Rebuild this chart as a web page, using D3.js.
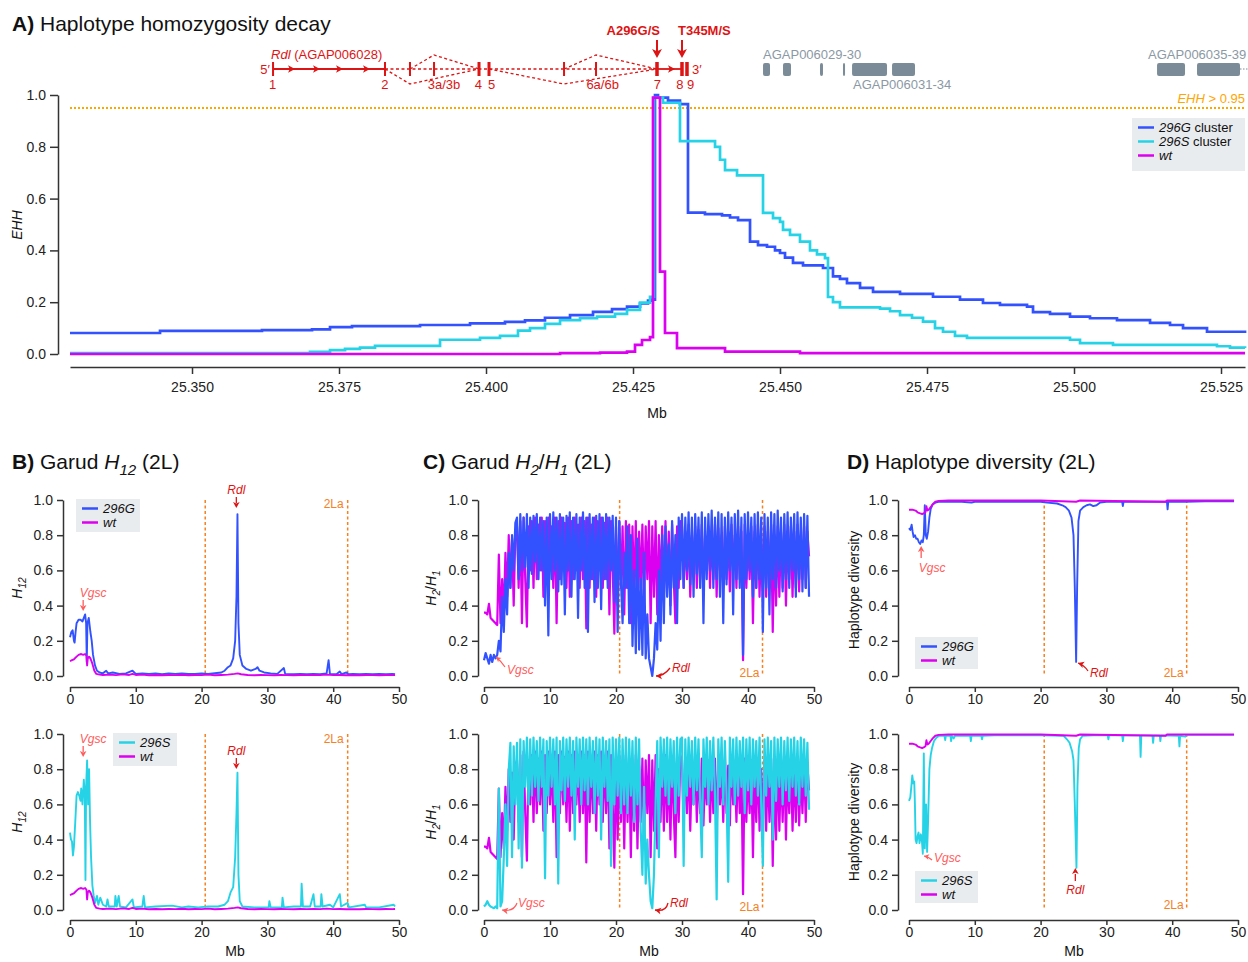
<!DOCTYPE html>
<meta charset="utf-8">
<script src="https://d3js.org/d3.v7.min.js"></script>
<style>
  body { margin: 0; background: #fff; }
</style>
<div id="chart"></div>
<script>

// ---------- colours ----------
var cBlue = "#3352ff", cCyan = "#26d3e6", cMag = "#dc00f0";
var cRed = "#dd1414", cVgsc = "#ff5c5c", cOrange = "#f7801f", cEhh = "#ffa500";
var cGray = "#7b8c98", cAxis = "#333", cLegend = "#e9ecef";
var FONT = '"Liberation Sans", Arial, Helvetica, sans-serif';

// ---------- data: panel A (EHH, position in Mb) ----------
var ehhTicks = [25.350, 25.375, 25.400, 25.425, 25.450, 25.475, 25.500, 25.525];
var ehhThreshold = 0.95;
var ehh296G = [[25.32925,.081],[25.34456,.089],[25.3619,.092],[25.37041,.095],[25.37347,.104],[25.37721,.108],[25.38878,.112],[25.39728,.118],[25.40323,.124],[25.40663,.13],[25.41003,.14],[25.41429,.15],[25.4182,.163],[25.42143,.173],[25.42398,.183],[25.42619,.195],[25.42755,.206],[25.42823,.21],[25.42874,1.0],[25.42925,.99],[25.43095,.978],[25.43299,.965],[25.43435,.546],[25.43724,.54],[25.44014,.535],[25.4415,.527],[25.44286,.517],[25.4449,.434],[25.44626,.42],[25.44779,.414],[25.44915,.4],[25.45,.39],[25.45085,.372],[25.45221,.352],[25.45391,.342],[25.45731,.332],[25.45901,.3],[25.4602,.29],[25.46139,.274],[25.46361,.255],[25.46582,.24],[25.47041,.232],[25.47602,.221],[25.48061,.21],[25.48452,.197],[25.48741,.19],[25.49201,.183],[25.49303,.162],[25.49592,.155],[25.49932,.144],[25.50272,.138],[25.50731,.131],[25.51293,.12],[25.51633,.112],[25.51854,.1],[25.52262,.086],[25.52908,.081]];
var ehh296S = [[25.32925,.003],[25.37007,.008],[25.37347,.015],[25.37602,.02],[25.37857,.025],[25.38112,.031],[25.39218,.055],[25.39898,.062],[25.40238,.07],[25.40544,.09],[25.40748,.1],[25.41003,.116],[25.41259,.131],[25.41599,.138],[25.41888,.144],[25.42194,.155],[25.42398,.17],[25.42619,.198],[25.42789,.221],[25.42857,.99],[25.4301,.97],[25.43299,.822],[25.43895,.8],[25.4398,.75],[25.44065,.71],[25.44269,.69],[25.44711,.545],[25.44881,.525],[25.45,.51],[25.45051,.479],[25.4517,.46],[25.4534,.434],[25.4551,.4],[25.45629,.385],[25.45765,.37],[25.45816,.22],[25.45901,.2],[25.4602,.18],[25.46701,.175],[25.46871,.165],[25.47041,.15],[25.47245,.14],[25.47432,.125],[25.47636,.1],[25.47772,.086],[25.47976,.07],[25.4818,.062],[25.49932,.055],[25.50102,.042],[25.50663,.035],[25.52432,.03],[25.52653,.025],[25.52908,.023]];
var ehhWt = [[25.32925,0],[25.41259,.003],[25.41939,.005],[25.42398,.009],[25.42534,.035],[25.42653,.054],[25.42789,.065],[25.4284,.99],[25.42959,.318],[25.43044,.081],[25.43248,.023],[25.44065,.009],[25.4534,.003],[25.52908,.003]];

// gene model (Mb)
var rdlExons = [25.36378, 25.38282, 25.38707, 25.39116, 25.39881, 25.40051, 25.41327, 25.41871, 25.42908, 25.43333, 25.43418];
var rdlExonLabels = [["1",25.36372],["2",25.38282],["3a/3b",25.39286],["4",25.39869],["5",25.40097],["6a/6b",25.41984],["7",25.42913],["8",25.43299],["9",25.43481]];
var rdlStrandArrows = [25.36701, 25.37126, 25.37517, 25.37976, 25.43163];
var mutations = [["A296G/S", 25.42908], ["T345M/S", 25.43333]];
var otherGeneBlocks = [[25.44711,25.4483],[25.45051,25.45187],[25.4568,25.45731],[25.46071,25.46106],[25.46225,25.4682],[25.46905,25.47296],[25.51412,25.51888],[25.52092,25.52823]];
var otherGeneNames = [["AGAP006029-30",25.44711,"up"],["AGAP006031-34",25.46241,"down"],["AGAP006035-39",25.51259,"up"]];

// ---------- data: genome scans on 2L (position in Mb) ----------
var scanTicks = [0, 10, 20, 30, 40, 50];
var inv2La = [20.55, 42.2];
var vgscPos = 2.0, rdlPos = 25.43;

var h12_296G = [[0,.22],[.2,.25],[.4,.26],[.6,.2],[.7,.19],[.85,.25],[1,.3],[1.3,.32],[1.6,.32],[1.9,.31],[2.1,.33],[2.3,.35],[2.45,.3],[2.55,.08],[2.65,.3],[2.85,.33],[3.1,.25],[3.3,.2],[3.5,.12],[3.8,.06],[4.1,.03],[4.5,.02],[5,.015],[5.5,.03],[5.8,.015],[6.5,.02],[7.5,.012],[8.5,.015],[9.5,.03],[10,.012],[11,.015],[12,.012],[13,.014],[14,.01],[15,.015],[16,.012],[17,.014],[18,.011],[19,.012],[20,.014],[21,.012],[22,.016],[23,.02],[23.5,.03],[24,.05],[24.4,.06],[24.8,.1],[25.1,.2],[25.3,.45],[25.45,.92],[25.6,.3],[25.8,.12],[26.2,.06],[26.8,.04],[27.5,.03],[28.2,.04],[28.5,.05],[28.8,.03],[29.5,.02],[30.5,.015],[31.5,.012],[32.5,.045],[32.7,.012],[34,.01],[35,.012],[36,.01],[37,.012],[38,.01],[39,.015],[39.3,.09],[39.5,.012],[40.5,.01],[41,.025],[41.3,.01],[42,.02],[42.3,.01],[43,.012],[44,.01],[45,.012],[46,.01],[47,.012],[48,.01],[49,.012],[49.4,.01]];
var h12_296S = [[0,.44],[.15,.4],[.3,.39],[.45,.31],[.6,.36],[.8,.5],[1,.65],[1.2,.67],[1.4,.65],[1.6,.62],[1.7,.69],[1.9,.6],[2.1,.74],[2.25,.65],[2.35,.17],[2.45,.7],[2.6,.85],[2.75,.6],[2.9,.8],[3.05,.5],[3.2,.3],[3.4,.14],[3.6,.08],[3.8,.04],[4.1,.08],[4.3,.03],[4.6,.07],[5,.03],[5.5,.02],[5.7,.06],[5.9,.02],[6.8,.02],[6.9,.08],[7.1,.02],[7.4,.08],[7.6,.02],[8.5,.015],[9.5,.06],[9.7,.015],[11,.02],[11.2,.08],[11.4,.015],[13,.02],[15.5,.025],[17,.015],[18,.02],[19.5,.015],[21,.02],[22.5,.02],[23.5,.03],[24,.05],[24.4,.1],[24.8,.13],[25.1,.3],[25.3,.55],[25.45,.78],[25.6,.2],[25.8,.05],[26.2,.02],[28,.015],[30.2,.015],[30.3,.05],[30.5,.015],[32.2,.015],[32.3,.07],[32.5,.015],[34,.02],[35.1,.02],[35.2,.15],[35.4,.02],[36.5,.02],[37,.09],[37.2,.02],[38.1,.02],[38.2,.09],[38.4,.02],[39.5,.03],[40,.015],[41,.09],[41.2,.02],[42.2,.04],[42.4,.015],[44.8,.03],[45,.015],[47,.015],[49.2,.03],[49.4,.02]];
var h12_wt = [[0,.085],[.3,.09],[.6,.095],[1,.11],[1.3,.12],[1.7,.125],[2,.12],[2.3,.125],[2.5,.115],[2.6,.06],[2.7,.1],[2.9,.11],[3.1,.1],[3.4,.07],[3.7,.03],[4,.012],[4.5,.008],[5,.006],[6,.008],[7,.005],[8,.009],[9,.006],[9.5,.012],[10,.006],[11,.008],[12,.004],[13,.006],[14,.004],[15,.006],[16,.005],[17,.007],[18,.004],[19,.006],[20,.005],[21,.008],[22,.004],[23,.006],[24,.008],[25,.012],[25.5,.015],[26,.01],[27,.006],[28,.004],[29,.006],[30,.005],[31,.004],[32,.006],[33,.005],[34,.004],[35,.006],[36,.005],[37,.006],[38,.005],[39,.008],[40,.005],[41,.006],[42,.004],[43,.005],[44,.004],[45,.006],[46,.005],[47,.004],[48,.006],[49,.005],[49.4,.006]];

// H2/H1 in windows every 0.25 Mb from 0
var h2h1Step = 0.25;
var h2h1_296G = [.09,.13,.1,.07,.12,.08,.12,.1, .12,.2,.14,.45, .25,.55,.35,.7,.5,.8,.6,.87,
  .9,.55,.92,.6,.9,.62,.92,.5,.9,.58, .91,.65,.92,.55,.9,.6,.88,.4,.9,.23,
  .92,.55,.93,.6,.9,.48,.92,.52,.9,.35, .91,.6,.93,.45,.9,.55,.92,.33,.9,.6,
  .93,.5,.9,.25,.92,.55,.9,.42,.91,.5, .92,.38,.9,.55,.92,.5,.9,.6,.91,.42,
  .9,.25,.88,.55,
  .3,.7,.5,.85,.3,.8,.17,.6,.13,.78,.15,.55,.12,.7,.1,.35,.1,.05,.0,.1,.3,.15,.6,.2,
  .8,.3,.85,.45,.75,.35,.88,.5,.8,.3,.9,.55,
  .92,.5,.9,.6,.93,.52,.9,.45,.92,.58, .9,.5,.93,.3,.9,.55,.92,.6,.94,.5,
  .9,.55,.93,.45,.92,.3,.9,.52,.93,.6, .9,.35,.92,.55,.94,.5,.9,.12,.92,.55,
  .93,.6,.9,.45,.92,.5,.93,.55,.9,.25, .92,.5,.9,.35,.93,.55,.92,.5,.94,.6,
  .9,.48,.92,.55,.93,.5,.9,.6,.92,.45, .93,.55,.9,.48,.92,.5,.91,.45];
var h2h1_296S = [.02,.03,.05,.03,.02,.015,.01,.02, .01,.69,.02,.05, .3,.6,.25,.8,.95,.3,.93,.6,
  .95,.35,.97,.24,.96,.7,.98,.6,.97,.65, .98,.7,.96,.62,.98,.7,.97,.18,.96,.65,
  .98,.7,.97,.6,.98,.15,.96,.68,.98,.62, .97,.7,.98,.65,.96,.4,.98,.7,.97,.6,
  .98,.68,.97,.6,.98,.7,.96,.55,.98,.65, .97,.4,.98,.7,.96,.62,.97,.25,.98,.6,
  .97,.65,.98,.55,
  .97,.6,.98,.55,.97,.65,.96,.5,.98,.6,.97,.45,.2,.7,.15,.4,.2,.05,.01,.2,.6,.96,.3,.98,
  .7,.97,.65,.98,.6,.97,.7,.96,.55,.98,.65,.97,
  .98,.25,.97,.65,.98,.7,.96,.6,.98,.68, .97,.62,.3,.97,.7,.98,.6,.96,.68,.98,
  .65,.06,.97,.7,.98,.6,.96,.65,.16,.98, .7,.97,.6,.98,.65,.96,.7,.98,.55,.97,
  .68,.98,.6,.97,.7,.96,.65,.98,.6,.25, .97,.65,.98,.7,.96,.4,.98,.62,.97,.7,
  .98,.6,.96,.68,.98,.62,.97,.7,.98,.65, .96,.6,.98,.7,.97,.65,.95,.57];
var h2h1_wt = [.36,.36,.35,.41,.33,.32,.31,.3, .29,.69,.3,.55, .35,.7,.45,.8,.5,.78,.4,.82,
  .85,.5,.88,.3,.9,.55,.28,.85,.6,.88, .5,.9,.55,.86,.6,.9,.45,.88,.55,.9,
  .6,.85,.5,.9,.3,.88,.55,.9,.6,.87, .5,.9,.45,.88,.55,.9,.6,.86,.5,.9,
  .55,.88,.27,.9,.5,.86,.55,.9,.45,.88, .6,.9,.5,.87,.55,.9,.35,.88,.6,.24,
  .85,.4,.88,.5,
  .85,.35,.88,.5,.86,.3,.85,.45,.88,.35,.82,.5,.86,.4,.85,.55,.88,.3,.85,.45,.88,.35,.8,.5,
  .85,.45,.88,.5,.82,.4,.86,.55,.3,.85,.5,.88,
  .85,.5,.82,.55,.86,.45,.8,.6,.85,.5, .83,.55,.86,.48,.8,.6,.85,.5,.82,.55,
  .86,.45,.84,.6,.8,.5,.85,.55,.82,.48, .86,.6,.8,.5,.85,.55,.82,.09,.86,.5,
  .8,.55,.85,.3,.82,.5,.86,.45,.8,.5, .85,.45,.82,.5,.86,.25,.8,.4,.85,.45,
  .82,.5,.86,.4,.8,.55,.85,.45,.82,.5, .86,.48,.8,.55,.85,.5,.82,.68];

var hd_296G = [[0,.84],[.2,.83],[.4,.86],[.55,.82],[.7,.79],[.9,.8],[1.1,.78],[1.3,.78],[1.5,.76],[1.7,.75],[1.9,.77],[2.1,.76],[2.25,.8],[2.4,.97],[2.55,.8],[2.7,.78],[2.9,.82],[3.1,.9],[3.3,.95],[3.6,.975],[4,.985],[4.5,.99],[6,.99],[8,.99],[9.5,.985],[10,.99],[12,.99],[14,.99],[16,.99],[18,.99],[20,.99],[21,.985],[22.5,.98],[23.3,.97],[23.8,.96],[24.3,.94],[24.7,.9],[25,.8],[25.2,.5],[25.4,.08],[25.55,.5],[25.75,.88],[26,.94],[26.5,.96],[27,.97],[27.5,.975],[28,.965],[28.5,.97],[29,.985],[30,.99],[32.4,.99],[32.5,.965],[32.6,.99],[36,.99],[39.2,.99],[39.3,.947],[39.4,.99],[42,.99],[45,.993],[49.4,.993]];
var hd_296S = [[0,.62],[.2,.64],[.35,.7],[.5,.765],[.65,.72],[.8,.73],[.9,.6],[1,.4],[1.15,.38],[1.3,.42],[1.45,.44],[1.6,.38],[1.8,.43],[1.95,.4],[2.1,.32],[2.25,.89],[2.4,.35],[2.6,.6],[2.75,.33],[2.9,.5],[3.1,.8],[3.3,.88],[3.5,.92],[3.8,.96],[4.2,.98],[4.6,.99],[5.4,.99],[5.5,.965],[5.6,.99],[6.3,.99],[6.4,.96],[6.5,.99],[6.8,.975],[7,.99],[9.3,.99],[9.4,.96],[9.5,.99],[11,.99],[11.1,.97],[11.2,.99],[13,.992],[16,.992],[20,.993],[23.5,.99],[24,.97],[24.4,.95],[24.8,.9],[25,.85],[25.2,.6],[25.45,.24],[25.6,.7],[25.8,.92],[26,.97],[26.4,.99],[28,.992],[30.2,.992],[30.3,.97],[30.4,.992],[32.4,.992],[32.5,.96],[32.6,.992],[35.1,.992],[35.2,.87],[35.3,.992],[37,.992],[37.1,.95],[37.2,.992],[38.1,.992],[38.2,.96],[38.3,.992],[41,.99],[41.1,.93],[41.2,.99],[42,.985],[42.2,.995],[49.4,.995]];
var hd_wt = [[0,.945],[.5,.945],[1,.94],[1.3,.93],[1.6,.925],[2,.92],[2.3,.925],[2.5,.93],[2.65,.965],[2.8,.94],[3,.945],[3.3,.96],[3.6,.975],[4,.99],[4.5,.995],[6,.997],[10,.997],[20,.997],[25.4,.99],[26,.997],[39,.99],[39.2,.997],[49.4,.997]];

// ---------- svg ----------
var svg = d3.select("#chart").append("svg")
  .attr("width", 1248).attr("height", 962)
  .style("font-family", FONT);

// text with bold / italic / subscript pieces
function rich(sel, parts, fs) {
  var shift = 0;
  parts.forEach(function(p) {
    var t = sel.append("tspan").text(p.t);
    if (p.b) t.attr("font-weight", "bold");
    if (p.i) t.attr("font-style", "italic");
    var want = p.sub ? fs * 0.3 : 0;
    if (want !== shift) { t.attr("dy", want - shift); shift = want; }
    if (p.sub) t.attr("font-size", fs * 0.72);
  });
  return sel;
}
function label(x, y, parts, fs, color, anchor) {
  var t = svg.append("text").attr("x", x).attr("y", y)
    .attr("font-size", fs).attr("fill", color || "#111")
    .attr("text-anchor", anchor || "start");
  return rich(t, parts, fs);
}
function styleAxis(g, fs) {
  g.attr("font-family", FONT).attr("font-size", fs);
  g.selectAll("path, line").attr("stroke", cAxis).attr("stroke-width", 1.5);
  g.selectAll("text").attr("fill", "#222");
}
// arrow head with tip at (x,y), pointing along angle (radians)
function head(x, y, ang, color, s) {
  svg.append("path")
    .attr("d", "M0,0L" + (-s) + "," + (-s * 0.55) + "L" + (-s * 0.75) + ",0L" + (-s) + "," + (s * 0.55) + "Z")
    .attr("transform", "translate(" + x + "," + y + ") rotate(" + (ang * 180 / Math.PI) + ")")
    .attr("fill", color);
}
function arrow(x1, y1, cx, cy, x2, y2, color, w, s) {
  svg.append("path").attr("d", "M" + x1 + "," + y1 + "Q" + cx + "," + cy + " " + x2 + "," + y2)
    .attr("fill", "none").attr("stroke", color).attr("stroke-width", w);
  head(x2, y2, Math.atan2(y2 - cy, x2 - cx), color, s);
}
function legend(x, y, w, h, entries, fs) {
  svg.append("rect").attr("x", x).attr("y", y).attr("width", w).attr("height", h).attr("fill", cLegend);
  entries.forEach(function(e, i) {
    var yy = y + 9.5 + i * 14;
    svg.append("line").attr("x1", x + 6).attr("x2", x + 22).attr("y1", yy).attr("y2", yy)
      .attr("stroke", e.color).attr("stroke-width", 2.5);
    label(x + 27, yy + 4.5, e.parts, fs, "#111");
  });
}

// ================= PANEL A =================
label(12, 31, [{t: "A)", b: 1}, {t: " Haplotype homozygosity decay"}], 21);

var xA = d3.scaleLinear().domain([25.32925, 25.52908]).range([70, 1245]);
var yA = d3.scaleLinear().domain([0, 1]).range([354, 95]);

// threshold line
svg.append("line").attr("x1", 70).attr("x2", 1245).attr("y1", yA(ehhThreshold)).attr("y2", yA(ehhThreshold))
  .attr("stroke", cEhh).attr("stroke-width", 2).attr("stroke-dasharray", "2,2");
label(1245, 103, [{t: "EHH", i: 1}, {t: " > 0.95"}], 13, cEhh, "end");

var lineA = d3.line().x(function(d) { return xA(d[0]); }).y(function(d) { return yA(d[1]); }).curve(d3.curveStepAfter);
[[ehh296G, cBlue], [ehh296S, cCyan], [ehhWt, cMag]].forEach(function(s) {
  svg.append("path").datum(s[0]).attr("d", lineA).attr("fill", "none")
    .attr("stroke", s[1]).attr("stroke-width", 2.7);
});

var gyA = svg.append("g").attr("transform", "translate(58,0)")
  .call(d3.axisLeft(yA).tickValues([0, .2, .4, .6, .8, 1]).tickFormat(d3.format(".1f")).tickSize(8).tickSizeOuter(0).tickPadding(4));
styleAxis(gyA, 14);
var gxA = svg.append("g").attr("transform", "translate(0,367)")
  .call(d3.axisBottom(xA).tickValues(ehhTicks).tickFormat(d3.format(".3f")).tickSize(7).tickSizeOuter(0).tickPadding(8));
styleAxis(gxA, 14);

svg.append("text").attr("transform", "translate(22,225) rotate(-90)").attr("text-anchor", "middle")
  .attr("font-size", 14).attr("font-style", "italic").attr("fill", "#111").text("EHH");
svg.append("text").attr("x", 657).attr("y", 418).attr("text-anchor", "middle").attr("font-size", 14).attr("fill", "#111").text("Mb");

legend(1132, 118, 113, 53, [
  {color: cBlue, parts: [{t: "296G", i: 1}, {t: " cluster"}]},
  {color: cCyan, parts: [{t: "296S", i: 1}, {t: " cluster"}]},
  {color: cMag, parts: [{t: "wt", i: 1}]}
], 13);

// ---- Rdl gene model ----
var gy = 69;
var ex = rdlExons.map(xA);
// solid parts
[[ex[0], ex[1]], [ex[8], ex[9]]].forEach(function(s) {
  svg.append("line").attr("x1", s[0]).attr("x2", s[1]).attr("y1", gy).attr("y2", gy).attr("stroke", cRed).attr("stroke-width", 1.8);
});
// dashed backbone and splice arcs
var dash = "3,2.5";
svg.append("line").attr("x1", ex[1]).attr("x2", ex[8]).attr("y1", gy).attr("y2", gy)
  .attr("stroke", cRed).attr("stroke-width", 1.3).attr("stroke-dasharray", dash);
[[ex[1], ex[2], 84, ex[4]], [ex[2], ex[3], 55, ex[4]], [ex[5], ex[6], 84, ex[8]], [ex[6], ex[7], 55, ex[8]]].forEach(function(a) {
  svg.append("path").attr("d", "M" + a[0] + "," + gy + "L" + a[1] + "," + a[2] + "L" + a[3] + "," + gy)
    .attr("fill", "none").attr("stroke", cRed).attr("stroke-width", 1.3).attr("stroke-dasharray", dash);
});
var exonW = [2, 2, 2, 2, 3, 3, 2, 2, 3.5, 3.5, 3.5];
svg.selectAll(".exon").data(rdlExons).join("rect").attr("class", "exon")
  .attr("x", function(d, i) { return xA(d) - exonW[i] / 2; }).attr("y", 62)
  .attr("width", function(d, i) { return exonW[i]; }).attr("height", 14).attr("fill", cRed);
rdlStrandArrows.forEach(function(p) { head(xA(p) + 3, gy, 0, cRed, 7); });
rdlExonLabels.forEach(function(l) {
  svg.append("text").attr("x", xA(l[1])).attr("y", 89).attr("text-anchor", "middle")
    .attr("font-size", 13).attr("fill", cRed).text(l[0]);
});
svg.append("text").attr("x", ex[0] - 3).attr("y", 74).attr("text-anchor", "end").attr("font-size", 13).attr("fill", cRed).text("5\u2032");
svg.append("text").attr("x", ex[10] + 5).attr("y", 74).attr("font-size", 13).attr("fill", cRed).text("3\u2032");
label(ex[0] - 2, 59, [{t: "Rdl", i: 1}, {t: " (AGAP006028)"}], 13, cRed);
mutations.forEach(function(m, i) {
  var mx = xA(m[1]);
  svg.append("text").attr("x", i === 0 ? mx + 3 : mx - 4).attr("y", 35)
    .attr("text-anchor", i === 0 ? "end" : "start")
    .attr("font-size", 13).attr("font-weight", "bold").attr("fill", cRed).text(m[0]);
  svg.append("line").attr("x1", mx).attr("x2", mx).attr("y1", 40).attr("y2", 52).attr("stroke", cRed).attr("stroke-width", 2);
  head(mx, 58, Math.PI / 2, cRed, 9);
});

// ---- neighbouring genes ----
svg.selectAll(".og").data(otherGeneBlocks).join("rect").attr("class", "og")
  .attr("x", function(d) { return xA(d[0]); }).attr("y", 63)
  .attr("width", function(d) { return Math.max(2, xA(d[1]) - xA(d[0])); }).attr("height", 13)
  .attr("rx", 2).attr("fill", cGray);
svg.append("line").attr("x1", xA(otherGeneBlocks[7][1])).attr("x2", 1248).attr("y1", gy).attr("y2", gy)
  .attr("stroke", cGray).attr("stroke-width", 1).attr("stroke-dasharray", "1.5,1.5");
otherGeneNames.forEach(function(g) {
  svg.append("text").attr("x", xA(g[1])).attr("y", g[2] === "up" ? 59 : 89)
    .attr("font-size", 13).attr("fill", "#8a99a4").text(g[0]);
});

// ================= PANELS B, C, D =================
var cols = {
  B: {ax: 63, x0: 70, x1: 399},
  C: {ax: 478, x0: 484, x1: 814},
  D: {ax: 898, x0: 909, x1: 1238}
};
var rows = {
  top: {yTop: 500, yBot: 676, axisY: 687},
  bot: {yTop: 734, yBot: 910, axisY: 920}
};

function panel(col, row, series, lw) {
  var x = d3.scaleLinear().domain([0, 50]).range([col.x0, col.x1]);
  var y = d3.scaleLinear().domain([0, 1]).range([row.yBot, row.yTop]);
  svg.append("g").selectAll("line").data(inv2La).join("line")
    .attr("x1", x).attr("x2", x).attr("y1", y(1)).attr("y2", y(0))
    .attr("stroke", cOrange).attr("stroke-width", 1.5).attr("stroke-dasharray", "3,2.5");
  var line = d3.line().x(function(d) { return x(d[0]); }).y(function(d) { return y(d[1]); });
  series.forEach(function(s) {
    svg.append("path").datum(s.data).attr("d", line).attr("fill", "none")
      .attr("stroke", s.color).attr("stroke-width", lw || 1.9).attr("stroke-linejoin", "round");
  });
  var gy = svg.append("g").attr("transform", "translate(" + col.ax + ",0)")
    .call(d3.axisLeft(y).tickValues([0, .2, .4, .6, .8, 1]).tickFormat(d3.format(".1f")).tickSize(6).tickSizeOuter(0).tickPadding(4));
  styleAxis(gy, 14);
  var gx = svg.append("g").attr("transform", "translate(0," + row.axisY + ")")
    .call(d3.axisBottom(x).tickValues(scanTicks).tickSize(5).tickSizeOuter(0).tickPadding(2));
  styleAxis(gx, 14);
  return {x: x, y: y};
}
function stepped(vals) {
  return vals.map(function(v, i) { return [i * h2h1Step, v]; });
}
function ylab(x, y, parts) {
  var t = svg.append("text").attr("transform", "translate(" + x + "," + y + ") rotate(-90)")
    .attr("text-anchor", "middle").attr("font-size", 14).attr("fill", "#111");
  rich(t, parts, 14);
}
function tag(x, y, txt, color, anchor) {
  svg.append("text").attr("x", x).attr("y", y).attr("text-anchor", anchor || "middle")
    .attr("font-size", 12).attr("font-style", "italic").attr("fill", color).text(txt);
}
function tag2La(x, y) {
  svg.append("text").attr("x", x).attr("y", y).attr("text-anchor", "end")
    .attr("font-size", 12).attr("fill", cOrange).text("2La");
}

// titles
label(12, 469, [{t: "B)", b: 1}, {t: " Garud "}, {t: "H", i: 1}, {t: "12", i: 1, sub: 1}, {t: " (2L)"}], 21);
label(423, 469, [{t: "C)", b: 1}, {t: " Garud "}, {t: "H", i: 1}, {t: "2", i: 1, sub: 1}, {t: "/"}, {t: "H", i: 1}, {t: "1", i: 1, sub: 1}, {t: " (2L)"}], 21);
label(847, 469, [{t: "D)", b: 1}, {t: " Haplotype diversity (2L)"}], 21);

// ---- B top ----
var p = panel(cols.B, rows.top, [{data: h12_296G, color: cBlue}, {data: h12_wt, color: cMag}]);
ylab(22, 588, [{t: "H", i: 1}, {t: "12", i: 1, sub: 1}]);
legend(76, 499, 64, 33, [{color: cBlue, parts: [{t: "296G", i: 1}]}, {color: cMag, parts: [{t: "wt", i: 1}]}], 13);
tag(p.x(rdlPos) - 1, 494, "Rdl", cRed);
svg.append("line").attr("x1", p.x(rdlPos) - 1).attr("x2", p.x(rdlPos) - 1).attr("y1", 497).attr("y2", 503).attr("stroke", cRed).attr("stroke-width", 1.3);
head(p.x(rdlPos) - 1, 508, Math.PI / 2, cRed, 6);
tag(p.x(vgscPos) + 10, 597, "Vgsc", cVgsc);
svg.append("line").attr("x1", p.x(vgscPos)).attr("x2", p.x(vgscPos)).attr("y1", 600).attr("y2", 606).attr("stroke", cVgsc).attr("stroke-width", 1.3);
head(p.x(vgscPos), 611, Math.PI / 2, cVgsc, 6);
tag2La(p.x(inv2La[1]) - 4, 508);

// ---- B bottom ----
p = panel(cols.B, rows.bot, [{data: h12_296S, color: cCyan}, {data: h12_wt, color: cMag}]);
ylab(22, 822, [{t: "H", i: 1}, {t: "12", i: 1, sub: 1}]);
legend(113, 733, 64, 33, [{color: cCyan, parts: [{t: "296S", i: 1}]}, {color: cMag, parts: [{t: "wt", i: 1}]}], 13);
tag(p.x(vgscPos) + 10, 743, "Vgsc", cVgsc);
svg.append("line").attr("x1", p.x(vgscPos)).attr("x2", p.x(vgscPos)).attr("y1", 746).attr("y2", 752).attr("stroke", cVgsc).attr("stroke-width", 1.3);
head(p.x(vgscPos), 757, Math.PI / 2, cVgsc, 6);
tag(p.x(rdlPos) - 1, 755, "Rdl", cRed);
svg.append("line").attr("x1", p.x(rdlPos) - 1).attr("x2", p.x(rdlPos) - 1).attr("y1", 758).attr("y2", 764).attr("stroke", cRed).attr("stroke-width", 1.3);
head(p.x(rdlPos) - 1, 769, Math.PI / 2, cRed, 6);
tag2La(p.x(inv2La[1]) - 4, 743);
svg.append("text").attr("x", 235).attr("y", 956).attr("text-anchor", "middle").attr("font-size", 14).attr("fill", "#111").text("Mb");

// ---- C top ----
p = panel(cols.C, rows.top, [{data: stepped(h2h1_wt), color: cMag}, {data: stepped(h2h1_296G), color: cBlue}], 2.2);
ylab(436, 588, [{t: "H", i: 1}, {t: "2", i: 1, sub: 1}, {t: "/"}, {t: "H", i: 1}, {t: "1", i: 1, sub: 1}]);
tag(507, 674, "Vgsc", cVgsc, "start");
arrow(505, 667, 501, 661, 496, 657, cVgsc, 1.2, 5);
tag(672, 672, "Rdl", cRed, "start");
arrow(670, 668, 664, 676, 656, 676, cRed, 1.3, 6);
tag2La(p.x(inv2La[1]) - 3, 677);

// ---- C bottom ----
p = panel(cols.C, rows.bot, [{data: stepped(h2h1_wt), color: cMag}, {data: stepped(h2h1_296S), color: cCyan}], 2.2);
ylab(436, 822, [{t: "H", i: 1}, {t: "2", i: 1, sub: 1}, {t: "/"}, {t: "H", i: 1}, {t: "1", i: 1, sub: 1}]);
tag(518, 907, "Vgsc", cVgsc, "start");
arrow(517, 903, 514, 912, 502, 910, cVgsc, 1.2, 6);
tag(670, 907, "Rdl", cRed, "start");
arrow(668, 903, 666, 912, 655, 910, cRed, 1.3, 6);
tag2La(p.x(inv2La[1]) - 3, 911);
svg.append("text").attr("x", 649).attr("y", 956).attr("text-anchor", "middle").attr("font-size", 14).attr("fill", "#111").text("Mb");

// ---- D top ----
p = panel(cols.D, rows.top, [{data: hd_296G, color: cBlue}, {data: hd_wt, color: cMag}]);
ylab(859, 590, [{t: "Haplotype diversity"}]);
legend(915, 637, 63, 32, [{color: cBlue, parts: [{t: "296G", i: 1}]}, {color: cMag, parts: [{t: "wt", i: 1}]}], 13);
tag(p.x(vgscPos) + 10, 572, "Vgsc", cVgsc);
svg.append("line").attr("x1", p.x(vgscPos) - 1).attr("x2", p.x(vgscPos) - 1).attr("y1", 558).attr("y2", 551).attr("stroke", cVgsc).attr("stroke-width", 1.3);
head(p.x(vgscPos) - 1, 546, -Math.PI / 2, cVgsc, 6);
tag(1090, 677, "Rdl", cRed, "start");
arrow(1088, 671, 1084, 665, 1078, 663, cRed, 1.3, 6);
tag2La(p.x(inv2La[1]) - 3, 677);

// ---- D bottom ----
p = panel(cols.D, rows.bot, [{data: hd_296S, color: cCyan}, {data: hd_wt, color: cMag}]);
ylab(859, 822, [{t: "Haplotype diversity"}]);
legend(915, 871, 63, 32, [{color: cCyan, parts: [{t: "296S", i: 1}]}, {color: cMag, parts: [{t: "wt", i: 1}]}], 13);
tag(934, 862, "Vgsc", cVgsc, "start");
arrow(932, 860, 929, 857, 924, 856, cVgsc, 1.2, 5);
tag(p.x(rdlPos) - 1, 894, "Rdl", cRed);
svg.append("line").attr("x1", p.x(rdlPos) - 1).attr("x2", p.x(rdlPos) - 1).attr("y1", 881).attr("y2", 874).attr("stroke", cRed).attr("stroke-width", 1.3);
head(p.x(rdlPos) - 1, 868, -Math.PI / 2, cRed, 6);
tag2La(p.x(inv2La[1]) - 3, 909);
svg.append("text").attr("x", 1074).attr("y", 956).attr("text-anchor", "middle").attr("font-size", 14).attr("fill", "#111").text("Mb");

</script>
